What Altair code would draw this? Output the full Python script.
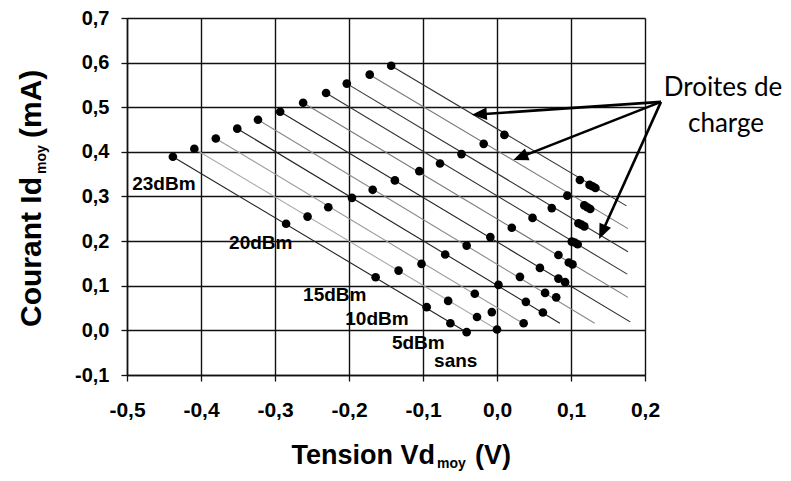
import math
import altair as alt
import pandas as pd

# ---------------- data ----------------
# 11 load lines ("droites de charge"); one point per RF power level on each line
levels = ["23dBm", "20dBm", "15dBm", "10dBm", "5dBm", "sans"]

vd_23 = [-0.438, -0.409, -0.380, -0.351, -0.323, -0.293, -0.262, -0.231, -0.203, -0.172, -0.143]
id_23 = [0.389, 0.407, 0.430, 0.452, 0.472, 0.490, 0.510, 0.532, 0.553, 0.573, 0.593]
vd_20 = [-0.285, -0.256, -0.228, -0.196, -0.168, -0.138, -0.105, -0.077, -0.048, -0.018, 0.010]
id_20 = [0.239, 0.255, 0.276, 0.297, 0.315, 0.336, 0.357, 0.374, 0.395, 0.418, 0.438]
vd_15 = [-0.164, -0.133, -0.102, -0.070, -0.041, -0.009, 0.020, 0.048, 0.074, 0.095, 0.112]
id_15 = [0.119, 0.134, 0.149, 0.170, 0.190, 0.209, 0.230, 0.252, 0.274, 0.302, 0.337]
vd_10 = [-0.095, -0.066, -0.030, 0.002, 0.031, 0.058, 0.083, 0.101, 0.110, 0.118, 0.125]
id_10 = [0.052, 0.066, 0.082, 0.102, 0.120, 0.140, 0.169, 0.199, 0.240, 0.280, 0.326]
vd_5 = [-0.063, -0.027, -0.007, 0.039, 0.065, 0.083, 0.097, 0.105, 0.114, 0.122, 0.129]
id_5 = [0.016, 0.030, 0.041, 0.064, 0.084, 0.116, 0.152, 0.197, 0.237, 0.276, 0.323]
vd_0 = [-0.041, 0.000, 0.036, 0.062, 0.080, 0.092, 0.102, 0.109, 0.118, 0.126, 0.133]
id_0 = [-0.004, 0.002, 0.016, 0.040, 0.074, 0.108, 0.148, 0.193, 0.233, 0.272, 0.319]

# right-hand end of each load line
end_vd = [-0.041, 0.000, 0.036, 0.085, 0.132, 0.180, 0.177, 0.176, 0.177, 0.177, 0.175]
end_id = [-0.004, 0.002, 0.015, 0.016, 0.016, 0.019, 0.074, 0.126, 0.176, 0.228, 0.279]

# power-level labels
label_text = ["23dBm", "20dBm", "15dBm", "10dBm", "5dBm", "sans"]
label_vd = [-0.493, -0.362, -0.262, -0.205, -0.142, -0.085]
label_id = [0.328, 0.196, 0.079, 0.026, -0.028, -0.069]

# annotation arrows ("Droites de charge")
arrow_start = (0.2216, 0.512)
arrow_head_vd = [-0.034, 0.022, 0.138]
arrow_head_id = [0.483, 0.382, 0.205]

x_ticks = [-0.5, -0.4, -0.3, -0.2, -0.1, 0.0, 0.1, 0.2]
y_ticks = [-0.1, 0.0, 0.1, 0.2, 0.3, 0.4, 0.5, 0.6, 0.7]

# ---------------- styles ----------------
line_shades = ["#222222", "#aaaaaa", "#999999", "#222222", "#888888", "#222222",
               "#777777", "#333333", "#333333", "#777777", "#333333"]
W, H = 518, 357
XD, YD = [-0.5, 0.2], [-0.1, 0.7]
FONT = "Liberation Sans"

# ---------------- tables ----------------
series = [vd_23, vd_20, vd_15, vd_10, vd_5, vd_0]
series_i = [id_23, id_20, id_15, id_10, id_5, id_0]
pts = []
for lev, xs, ys in zip(levels, series, series_i):
    for k, (a, b) in enumerate(zip(xs, ys)):
        pts.append({"level": lev, "line": k, "vd": a, "id": b})
pts = pd.DataFrame(pts)

lines = []
for k in range(len(vd_23)):
    lines.append({"line": k, "vd": vd_23[k], "id": id_23[k]})
    lines.append({"line": k, "vd": end_vd[k], "id": end_id[k]})
lines = pd.DataFrame(lines)

labels = pd.DataFrame({"t": label_text, "vd": label_vd, "id": label_id})

kx = W / (XD[1] - XD[0])
ky = H / (YD[1] - YD[0])
arr = []
sx, sy = arrow_start
for hx, hy in zip(arrow_head_vd, arrow_head_id):
    dxp = (hx - sx) * kx
    dyp = -(hy - sy) * ky
    L = math.hypot(dxp, dyp)
    back = 9.0 / L
    arr.append({"sx": sx, "sy": sy, "hx": hx, "hy": hy,
                "ex": hx - back * (hx - sx), "ey": hy - back * (hy - sy),
                "ang": math.degrees(math.atan2(dyp, dxp)) % 360})
arr = pd.DataFrame(arr)

# ---------------- chart ----------------
fmt = "replace(replace(format(datum.value, '.1f'), '.', ','), '\u2212', '-')"
xs_ = alt.Scale(domain=XD, nice=False, zero=False)
ys_ = alt.Scale(domain=YD, nice=False, zero=False)
common_axis = dict(title=None, grid=True, gridColor="#111111", gridWidth=1.4,
                   domainColor="#111111", domainWidth=1.5, tickColor="#111111",
                   tickSize=6, tickWidth=1.3, labelFont=FONT, labelFontWeight="bold",
                   labelColor="#000000", labelExpr=fmt,
                   labelFlush=False, labelOverlap=False)
xaxis = alt.Axis(values=x_ticks, labelPadding=18, labelFontSize=21, **common_axis)
yaxis = alt.Axis(values=y_ticks, labelPadding=12, labelFontSize=20, **common_axis)

line_layer = alt.Chart(lines).mark_line(strokeWidth=1.1).encode(
    x=alt.X("vd:Q", scale=xs_, axis=xaxis),
    y=alt.Y("id:Q", scale=ys_, axis=yaxis),
    detail="line:N",
    color=alt.Color("line:N", scale=alt.Scale(domain=list(range(len(line_shades))),
                                              range=line_shades), legend=None),
)

point_layer = alt.Chart(pts).mark_circle(size=75, color="black", opacity=1).encode(
    x=alt.X("vd:Q", scale=xs_), y=alt.Y("id:Q", scale=ys_))

label_layer = alt.Chart(labels).mark_text(
    align="left", baseline="middle", font=FONT, fontWeight="bold", fontSize=19,
    color="black").encode(x=alt.X("vd:Q", scale=xs_), y=alt.Y("id:Q", scale=ys_), text="t:N")

shaft_layer = alt.Chart(arr).mark_rule(strokeWidth=2.6, color="black").encode(
    x=alt.X("sx:Q", scale=xs_), y=alt.Y("sy:Q", scale=ys_), x2="ex:Q", y2="ey:Q")

head_layer = alt.Chart(arr).mark_point(
    shape="M0,0L-1,-0.42L-1,0.42Z", filled=True, size=900, color="black",
    opacity=1, strokeWidth=0).encode(
    x=alt.X("hx:Q", scale=xs_), y=alt.Y("hy:Q", scale=ys_),
    angle=alt.Angle("ang:Q", scale=None))


def txt(s, px, py, size, angle=0, align="left", font=FONT, weight="bold"):
    return alt.Chart(pd.DataFrame({"t": [s]})).mark_text(
        align=align, baseline="alphabetic", font=font, fontSize=size,
        fontWeight=weight, angle=angle, color="black").encode(
        x=alt.value(px), y=alt.value(py), text="t:N")


titles = [
    txt("Tension Vd", 308, 446, 27, align="right"),
    txt("moy", 310, 450, 14),
    txt("(V)", 348, 446, 27),
    txt("Courant Id", -86, 159, 30, angle=270, align="right"),
    txt("moy", -81, 156, 14, angle=270),
    txt("(mA)", -86, 120, 30, angle=270),
    txt("Droites de", 596, 78, 26, align="center", font="Lato", weight="normal"),
    txt("charge", 599, 114, 26, align="center", font="Lato", weight="normal"),
]

chart = alt.layer(line_layer, point_layer, label_layer, shaft_layer, head_layer,
                  *titles).properties(
    width=W, height=H,
    autosize=alt.AutoSizeParams(type="none"),
    padding={"left": 119, "top": 10, "right": 138, "bottom": 98},
).configure_view(stroke=None).configure(background="white")

chart.save("out.html", embed_options={"renderer": "svg", "actions": False})
